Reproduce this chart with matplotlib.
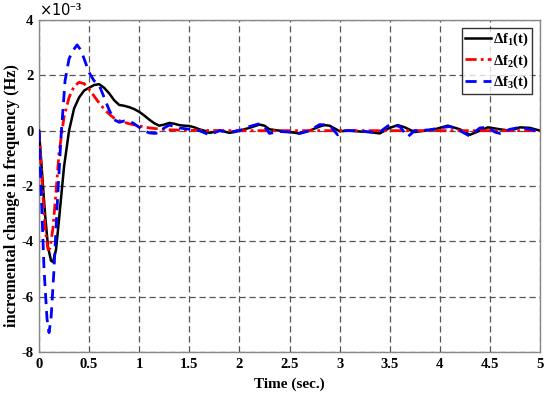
import matplotlib
matplotlib.use("Agg")
import matplotlib.pyplot as plt

plt.rcParams['font.family'] = ['Liberation Serif', 'DejaVu Serif']
plt.rcParams['mathtext.fontset'] = 'custom'
plt.rcParams['mathtext.rm'] = 'Liberation Serif:bold'
plt.rcParams['mathtext.bf'] = 'Liberation Serif:bold'
plt.rcParams['mathtext.it'] = 'Liberation Serif:bold'
plt.rcParams['mathtext.default'] = 'rm'
plt.rcParams['axes.unicode_minus'] = False

# values in units of 1e-3 Hz
t1 = [0, 0.03, 0.06, 0.09, 0.12, 0.14, 0.17, 0.2, 0.25, 0.3, 0.35, 0.4, 0.45, 0.5, 0.55, 0.6,
      0.65, 0.7, 0.75, 0.8, 0.85, 0.9, 0.95, 1.0, 1.05, 1.1, 1.15, 1.2, 1.25, 1.3, 1.35, 1.4,
      1.45, 1.5, 1.55, 1.6, 1.65, 1.7, 1.75, 1.8, 1.85, 1.9, 1.95, 2.0, 2.1, 2.2, 2.25, 2.3,
      2.4, 2.5, 2.6, 2.7, 2.8, 2.85, 2.9, 3.0, 3.1, 3.2, 3.3, 3.4, 3.5, 3.58, 3.65, 3.75, 3.85,
      3.95, 4.08, 4.2, 4.3, 4.4, 4.48, 4.6, 4.7, 4.8, 4.9, 5.0]
f1 = [0, -1.5, -3.0, -4.2, -4.7, -4.75, -4.3, -3.2, -1.3, 0.0, 0.8, 1.2, 1.45, 1.55, 1.65, 1.68,
      1.55, 1.35, 1.1, 0.93, 0.9, 0.85, 0.78, 0.68, 0.55, 0.4, 0.27, 0.18, 0.22, 0.28, 0.25, 0.2,
      0.18, 0.17, 0.12, 0.05, 0.0, -0.08, -0.05, 0.0, -0.03, -0.08, -0.05, 0.0, 0.1, 0.22, 0.18, 0.05,
      0.0, -0.05, -0.1, 0.0, 0.15, 0.2, 0.18, -0.02, 0.0, -0.03, -0.05, -0.1, 0.1, 0.2, 0.12, -0.05, 0.0,
      0.05, 0.18, 0.05, -0.15, 0.0, 0.12, 0.05, 0.0, 0.12, 0.1, 0.0]

t2 = [0, 0.03, 0.06, 0.09, 0.11, 0.14, 0.17, 0.2, 0.25, 0.3, 0.35, 0.4, 0.45, 0.5, 0.55, 0.6,
      0.65, 0.7, 0.75, 0.8, 0.9, 1.0, 1.1, 1.2, 1.3, 1.5, 2.0, 5.0]
f2 = [0, -1.8, -3.5, -4.3, -4.25, -3.5, -2.2, -0.8, 0.5, 1.2, 1.6, 1.75, 1.7, 1.5, 1.25, 1.0,
      0.78, 0.6, 0.45, 0.36, 0.25, 0.17, 0.1, 0.06, 0.03, 0.01, 0.0, 0.0]

t3 = [0, 0.02, 0.05, 0.08, 0.1, 0.12, 0.15, 0.18, 0.22, 0.26, 0.3, 0.34, 0.38, 0.42, 0.46, 0.5,
      0.55, 0.6, 0.65, 0.7, 0.75, 0.8, 0.85, 0.9, 0.95, 1.0, 1.05, 1.1, 1.15, 1.2, 1.25, 1.3,
      1.35, 1.4, 1.5, 1.6, 1.7, 1.8, 1.9, 2.0, 2.1, 2.2, 2.25, 2.3, 2.4, 2.5, 2.6, 2.7, 2.8,
      2.9, 2.98, 3.05, 3.2, 3.3, 3.4, 3.5, 3.6, 3.68, 3.75, 3.9, 4.0, 4.1, 4.2, 4.3, 4.4, 4.48,
      4.55, 4.6, 4.7, 4.8, 4.9, 5.0]
f3 = [0, -2.0, -5.0, -6.8, -7.3, -6.8, -5.0, -2.8, -0.2, 1.8, 2.6, 2.9, 3.1, 2.9, 2.5, 2.1,
      1.8, 1.65, 1.2, 0.75, 0.4, 0.3, 0.35, 0.35, 0.25, 0.12, 0.0, -0.08, -0.1, -0.08, 0.1, 0.2,
      0.15, 0.1, 0.05, 0.0, -0.15, 0.0, -0.05, 0.0, 0.15, 0.25, 0.15, -0.1, -0.03, -0.05, -0.1, 0.0, 0.22,
      0.2, -0.15, 0.0, 0.0, -0.05, -0.05, 0.22, 0.15, -0.22, 0.0, 0.03, 0.1, 0.15, 0.0, -0.2, 0.1, 0.12,
      -0.05, -0.1, 0.05, 0.12, 0.05, -0.05]

labels = ['Δf$_1$(t)', 'Δf$_2$(t)', 'Δf$_3$(t)']
xticks = [0, 0.5, 1, 1.5, 2, 2.5, 3, 3.5, 4, 4.5, 5]
xticklabels = ['0', '0.5', '1', '1.5', '2', '2.5', '3', '3.5', '4', '4.5', '5']
yticks = [-8, -6, -4, -2, 0, 2, 4]

fig = plt.figure(figsize=(5.5, 3.95), dpi=100)
ax = fig.add_axes([39/550, 43/395, 501/550, 332/395])

ax.plot(t1, f1, color='black', lw=1.8, linestyle='-', label=labels[0], zorder=3)
ax.plot(t2, f2, color='red', lw=2.0, linestyle=(0, (4, 1.5, 1, 1.5)), label=labels[1], zorder=4)
ax.plot(t3, f3, color='blue', lw=2.0, linestyle=(0, (4, 2.5)), label=labels[2], zorder=5)

ax.set_xlim(0, 5)
ax.set_ylim(-8, 4)
ax.set_xticks(xticks)
ax.set_xticklabels(xticklabels)
ax.set_yticks(yticks)
ax.grid(True, color='#555555', linestyle=(0, (5, 3)), linewidth=0.9)
ax.tick_params(direction='in', length=0, labelsize=10.5, pad=4)
for lab in ax.get_xticklabels() + ax.get_yticklabels():
    lab.set_fontweight('bold')
for sp in ax.spines.values():
    sp.set_color('#888888')
    sp.set_linewidth(1.0)

ax.set_xlabel('Time (sec.)', fontsize=11, fontweight='bold', labelpad=5)
ax.set_ylabel('incremental change in frequency (Hz)', fontsize=11.8, fontweight='bold')
ax.yaxis.set_label_coords(-0.038, 0.47)
ax.text(0.0, 1.005, '×10$^{-3}$', transform=ax.transAxes, fontsize=10.5, ha='left', va='bottom',
        family=['DejaVu Sans'])

leg = ax.legend(loc='upper right', fontsize=10.5, frameon=True, fancybox=False,
                edgecolor='black', handlelength=1.75, borderaxespad=0.55,
                borderpad=0.2, labelspacing=0.28, handletextpad=0.2)
leg.get_frame().set_linewidth(1.0)
for txt in leg.get_texts():
    txt.set_fontweight('bold')

fig.savefig('out.png', dpi=100)
